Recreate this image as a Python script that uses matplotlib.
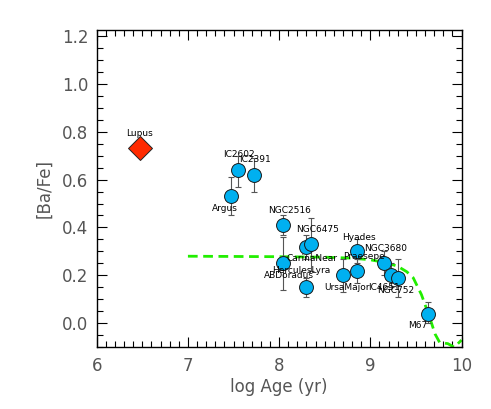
import matplotlib
matplotlib.use('Agg')
import matplotlib.pyplot as plt
from matplotlib.ticker import MultipleLocator, FormatStrFormatter

# cluster data: log age, [Ba/Fe], error bar top / bottom
names = ["Argus", "IC2602", "IC2391", "NGC2516", "ABDoradus", "CarinaNear",
         "NGC6475", "HerculesLyra", "UrsaMajor", "Hyades", "Praesepe",
         "NGC3680", "IC4651", "NGC752", "M67"]
log_age = [7.47, 7.545, 7.72, 8.04, 8.04, 8.30, 8.35, 8.30, 8.70, 8.85, 8.85,
           9.15, 9.23, 9.30, 9.63]
ba_fe = [0.53, 0.64, 0.62, 0.41, 0.25, 0.32, 0.33, 0.15, 0.20, 0.30, 0.22,
         0.25, 0.20, 0.19, 0.04]
err_hi = [0.61, 0.70, 0.69, 0.45, 0.36, 0.37, 0.44, 0.19, 0.27, 0.35, 0.27,
          0.30, 0.25, 0.27, 0.09]
err_lo = [0.45, 0.57, 0.55, 0.37, 0.14, 0.27, 0.22, 0.11, 0.13, 0.25, 0.17,
          0.20, 0.15, 0.11, 0.00]
# label offsets in pixels
lab_dx = [-6, 1, 1, 7, 6, 6, 7, -5, 4, 2, 7, 2, -7, -2, -10]
lab_dy = [-12, 15, 15, 15, -12, -12, 15, 17, -12, 14, 14, 15, -12, -13, -12]

lupus_age = 6.47
lupus_ba = 0.73

# model curve
model_x = [7.0, 7.5, 8.0, 8.5, 8.8, 9.0, 9.1, 9.2, 9.3, 9.4, 9.47, 9.56,
           9.65, 9.71, 9.76, 9.85, 9.92, 10.0]
model_y = [0.28, 0.279, 0.278, 0.276, 0.272, 0.265, 0.258, 0.25, 0.238,
           0.215, 0.19, 0.12, 0.025, -0.045, -0.08, -0.085, -0.1, -0.07]

fig = plt.figure(figsize=(4.91, 4.09), dpi=100)
ax = fig.add_axes([0.197, 0.151, 0.743, 0.776])

ax.plot(model_x, model_y, color='#22ee00', lw=2, ls=(0, (3.5, 2)), zorder=2)

yerr = [[b - l for b, l in zip(ba_fe, err_lo)], [h - b for b, h in zip(ba_fe, err_hi)]]
ax.errorbar(log_age, ba_fe, yerr=yerr, fmt='none', ecolor='#555555',
            elinewidth=0.8, capsize=2, capthick=0.8, zorder=3)
ax.plot(log_age, ba_fe, 'o', ms=10, mfc='#00b0f0', mec='#1a1a1a', mew=0.7,
        zorder=4)
ax.plot([lupus_age], [lupus_ba], 'D', ms=12, mfc='#ff2a00', mec='#222222',
        mew=0.7, zorder=4)

for n, x, y, dx, dy in zip(names, log_age, ba_fe, lab_dx, lab_dy):
    ax.annotate(n, (x, y), xytext=(dx, dy), textcoords='offset pixels',
                ha='center', va='center', fontsize=6.5, zorder=5)
ax.annotate("Lupus", (lupus_age, lupus_ba), xytext=(0, 15),
            textcoords='offset pixels', ha='center', va='center', fontsize=6.5)

ax.set_xlim(6, 10)
ax.set_ylim(-0.1, 1.225)
ax.xaxis.set_major_locator(MultipleLocator(1))
ax.xaxis.set_minor_locator(MultipleLocator(0.1))
ax.yaxis.set_major_locator(MultipleLocator(0.2))
ax.yaxis.set_minor_locator(MultipleLocator(0.05))
ax.yaxis.set_major_formatter(FormatStrFormatter('%.1f'))
ax.tick_params(which='both', direction='in', top=True, right=True,
               labelsize=12, labelcolor='#555555')
ax.tick_params(which='major', length=7, width=0.8)
ax.tick_params(which='minor', length=4, width=0.8)
ax.tick_params(axis='x', pad=7)
ax.tick_params(axis='y', pad=6)
for s in ax.spines.values():
    s.set_linewidth(1.0)

ax.set_xlabel('log Age (yr)', fontsize=12, color='#555555', labelpad=2)
ax.set_ylabel('[Ba/Fe]', fontsize=12, color='#555555', labelpad=6)

fig.savefig('out.png', dpi=100)
